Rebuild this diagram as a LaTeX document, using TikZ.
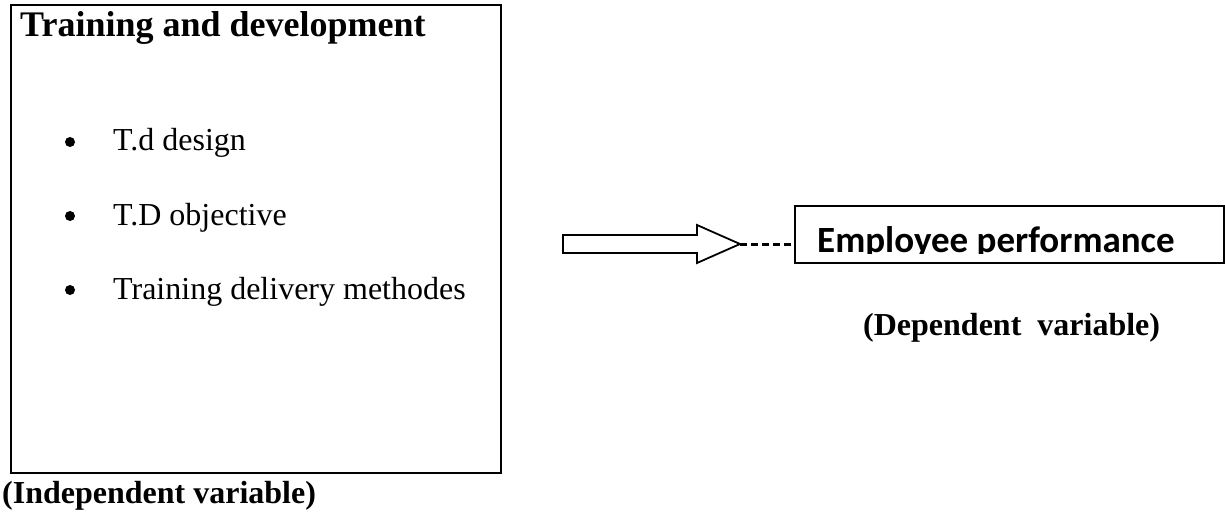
\documentclass[tikz,border=0pt]{standalone}
\usepackage{fontspec}
\setmainfont{Liberation Serif}
\newfontfamily\calibri{Carlito}
\begin{document}
\begin{tikzpicture}[x=1pt,y=-1pt,
  frame/.style={draw=black,line width=2pt},
  title/.style={anchor=base west,inner sep=0pt,font=\fontsize{36}{42}\selectfont\bfseries},
  item/.style={anchor=base west,inner sep=0pt,font=\fontsize{32}{38}\selectfont},
  bul/.style={circle,fill=black,inner sep=0pt,minimum size=10pt},
  lab/.style={anchor=base west,inner sep=0pt,font=\fontsize{32}{38}\selectfont\bfseries},
  blockarrow/.style={draw=black,line width=1.8pt,fill=white,line join=miter},
  dashconn/.style={draw=black,line width=3pt,dash pattern=on 7pt off 4pt}]
\useasboundingbox (0,0) rectangle (1225,513);
% left box
\node[frame,minimum width=490pt,minimum height=468pt,inner sep=0pt] (tdbox) at (256,239) {};
\node[title] (tdtitle) at (20,37) {Training and development};
\node[bul] (b1) at (70,142) {};
\node[item] (i1) at (113,151) {T.d design};
\node[bul] (b2) at (70,216) {};
\node[item] (i2) at (113,225) {T.D objective};
\node[bul] (b3) at (70,290) {};
\node[item] (i3) at (113,299) {Training delivery methodes};
\node[lab] (indep) at (2,503) {(Independent variable)};
% block arrow
\coordinate (a1) at (563,235);
\coordinate (a2) at (697,235);
\coordinate (a3) at (697,225);
\coordinate (tip) at (740,244);
\coordinate (a5) at (697,263);
\coordinate (a6) at (697,253);
\coordinate (a7) at (563,253);
\draw[blockarrow] (a1) -- (a2) -- (a3) -- (tip) -- (a5) -- (a6) -- (a7) -- cycle;
% employee box
\node[frame,minimum width=429pt,minimum height=57pt,inner sep=0pt] (emp) at (1009.5,234.5) {};
\draw[dashconn] (tip) -- (emp.west |- tip);
\begin{scope}
\clip (797,208) rectangle (1222,253);
\node[anchor=base west,inner sep=0pt,font=\calibri\fontsize{37}{44}\selectfont\bfseries] (emptext) at (817,252) {Employee performance};
\end{scope}
\node[lab] (dep) at (863,335) {(Dependent\ \ variable)};
\end{tikzpicture}
\end{document}
